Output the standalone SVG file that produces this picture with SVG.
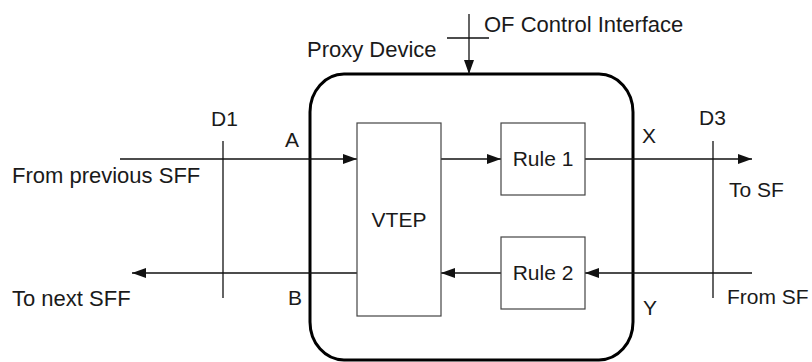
<svg xmlns="http://www.w3.org/2000/svg" width="812" height="362" viewBox="0 0 812 362">
<style>
text{font-family:"Liberation Sans",Arial,sans-serif;font-size:21px;fill:#1a1a1a}
.big{font-size:22px}
.ln{stroke:#111;stroke-width:1.3;fill:none}
.box{stroke:#444;stroke-width:1.2;fill:#fff}
</style>
<defs>
<marker id="ah" markerWidth="14" markerHeight="10" refX="14" refY="5" orient="auto" markerUnits="userSpaceOnUse">
<path d="M0,0 L14,5 L0,10 z" fill="#111"/>
</marker>
</defs>
<rect width="812" height="362" fill="#fff"/>
<g id="proxy">
<rect x="310" y="74" width="323" height="286" rx="34" ry="38" fill="none" stroke="#000" stroke-width="3"/>
<text class="big" x="307" y="57">Proxy Device</text>
</g>
<g id="connectors">
<line class="ln" x1="469" y1="14" x2="469" y2="74" marker-end="url(#ah)"/>
<line class="ln" x1="447" y1="38" x2="489" y2="38"/>
<line class="ln" x1="120" y1="159" x2="357" y2="159" marker-end="url(#ah)"/>
<line class="ln" x1="441" y1="159" x2="501" y2="159" marker-end="url(#ah)"/>
<line class="ln" x1="585" y1="159" x2="752" y2="159" marker-end="url(#ah)"/>
<line class="ln" x1="752" y1="273" x2="585" y2="273" marker-end="url(#ah)"/>
<line class="ln" x1="501" y1="273" x2="441" y2="273" marker-end="url(#ah)"/>
<line class="ln" x1="357" y1="273" x2="132" y2="273" marker-end="url(#ah)"/>
<line class="ln" x1="223" y1="141" x2="223" y2="298"/>
<line class="ln" x1="713" y1="141" x2="713" y2="298"/>
</g>
<g id="vtep">
<rect class="box" x="357" y="123" width="84" height="193"/>
<text x="399" y="227" text-anchor="middle">VTEP</text>
</g>
<g id="rule1">
<rect class="box" x="501" y="123" width="84" height="72"/>
<text x="543" y="166" text-anchor="middle">Rule 1</text>
</g>
<g id="rule2">
<rect class="box" x="501" y="237" width="84" height="72"/>
<text x="543" y="280" text-anchor="middle">Rule 2</text>
</g>
<g id="labels">
<text class="big" x="484" y="32">OF Control Interface</text>
<text x="211" y="126">D1</text>
<text x="699" y="125">D3</text>
<text x="285" y="147">A</text>
<text x="288" y="305">B</text>
<text x="642" y="143">X</text>
<text x="643" y="315">Y</text>
<text class="big" x="12" y="183">From previous SFF</text>
<text class="big" x="12" y="306">To next SFF</text>
<text x="729" y="197">To SF</text>
<text x="727" y="304">From SF</text>
</g>
</svg>
